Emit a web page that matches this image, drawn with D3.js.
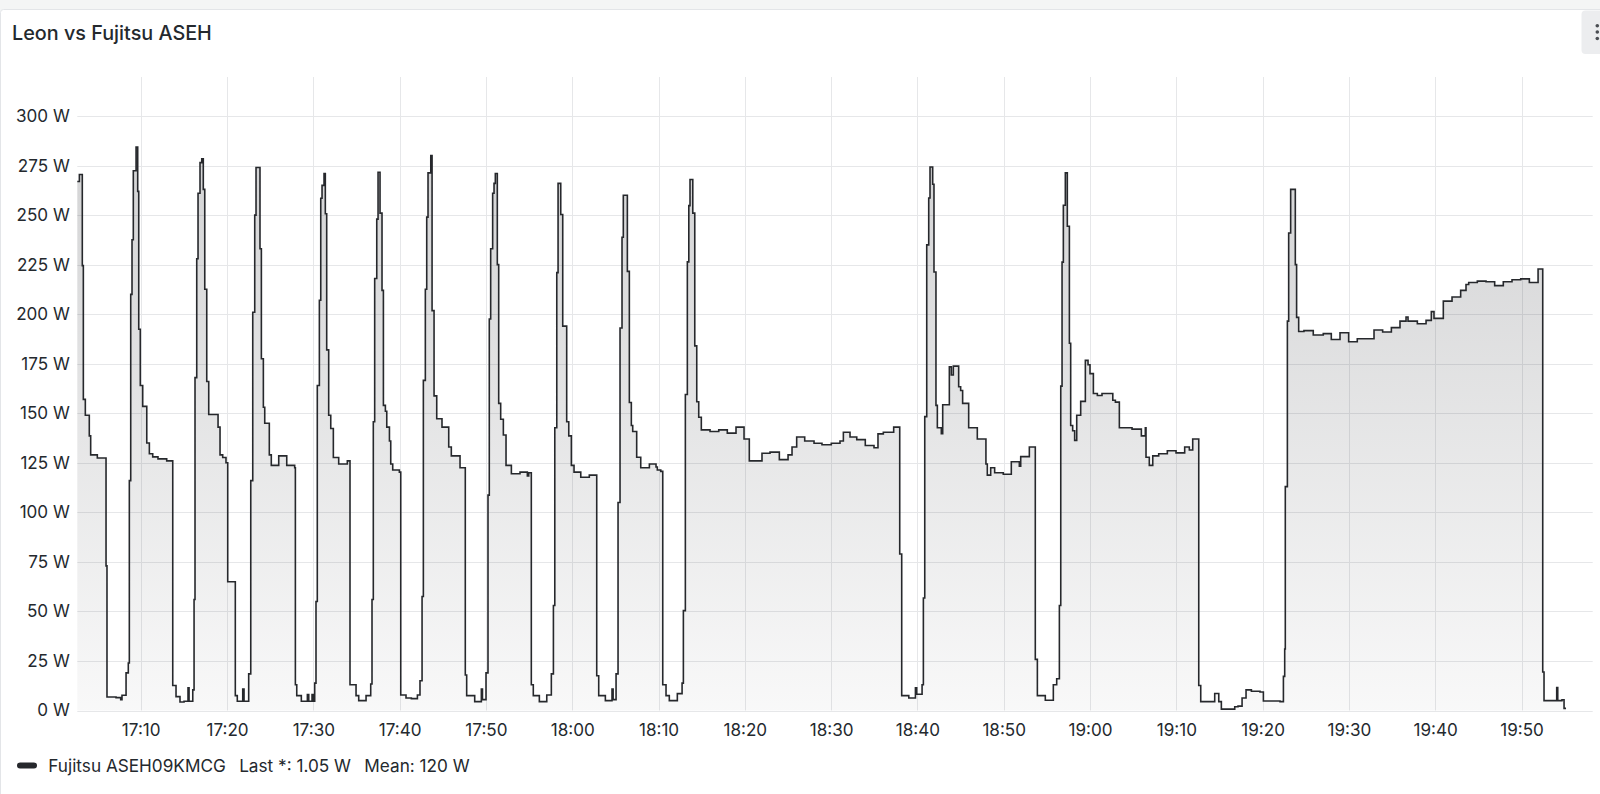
<!DOCTYPE html>
<html>
<head>
<meta charset="utf-8">
<script src="https://cdn.jsdelivr.net/npm/d3@7"></script>
<style>
  html, body { margin: 0; padding: 0; background: #f4f5f5; }
  svg { display: block; font-family: Inter, "Noto Sans", sans-serif; }
</style>
</head>
<body>
<svg id="chart" width="1600" height="794"></svg>
<script>
// ---- data (minutes after 17:00, watts) ----
const title = "Leon vs Fujitsu ASEH";
const seriesName = "Fujitsu ASEH09KMCG";
const legendStats = ["Last *: 1.05 W", "Mean: 120 W"];
const yTicks = [0, 25, 50, 75, 100, 125, 150, 175, 200, 225, 250, 275, 300];
const domainMinutes = [2.65, 178.25];
const minutes = [
  2.65, 2.89, 3.23, 3.35, 3.58, 4.04, 4.20, 4.97, 5.98, 6.09, 7.14, 7.68, 7.83, 8.30, 8.56, 8.68, 8.84, 8.99, 9.14, 9.46,
  9.65, 9.77, 9.95, 10.23, 10.70, 11.00, 11.39, 12.00, 13.01, 13.71, 14.09, 14.55, 15.02, 15.48, 15.60, 16.03, 16.18, 16.29, 16.49, 16.64,
  16.87, 17.07, 17.25, 17.42, 17.65, 17.88, 18.96, 19.19, 19.50, 19.88, 20.08, 20.96, 21.19, 21.82, 21.97, 22.51, 22.75, 22.98, 23.21, 23.36,
  23.82, 23.98, 24.21, 24.37, 24.90, 25.13, 25.99, 26.92, 27.84, 27.92, 28.08, 28.61, 29.31, 29.47, 29.85, 30.00, 30.16, 30.31, 30.46, 30.70,
  30.86, 31.01, 31.24, 31.39, 31.55, 31.78, 32.02, 32.32, 32.94, 33.94, 34.25, 34.95, 35.26, 36.11, 36.65, 36.80, 36.95, 37.11, 37.35, 37.50,
  37.73, 37.96, 38.12, 38.35, 38.51, 38.82, 38.97, 39.20, 39.97, 40.13, 40.74, 41.36, 42.06, 42.36, 42.60, 42.75, 42.98, 43.14, 43.29, 43.61,
  43.76, 43.99, 44.30, 44.91, 45.69, 45.99, 47.00, 47.61, 47.77, 48.70, 49.47, 49.60, 50.01, 50.24, 50.39, 50.55, 50.78, 50.94, 51.09, 51.32,
  51.48, 51.71, 52.02, 52.33, 52.95, 53.95, 54.80, 54.96, 55.26, 55.49, 56.19, 57.05, 57.58, 57.82, 57.98, 58.21, 58.36, 58.67, 58.90, 59.36,
  59.60, 59.90, 60.21, 60.99, 61.98, 62.84, 63.07, 63.84, 64.61, 64.74, 65.08, 65.31, 65.54, 65.77, 65.92, 66.39, 66.62, 66.85, 67.01, 67.47,
  67.94, 68.94, 69.71, 69.86, 70.26, 70.49, 70.87, 71.25, 72.18, 72.73, 72.88, 73.11, 73.34, 73.51, 73.65, 73.97, 74.20, 74.43, 74.66, 74.96,
  75.97, 76.98, 77.97, 78.98, 79.91, 80.52, 81.99, 82.92, 84.00, 85.01, 85.47, 86.01, 86.94, 88.02, 88.94, 90.02, 91.03, 91.42, 92.19, 92.97,
  93.96, 94.97, 95.43, 96.05, 97.25, 97.95, 98.18, 99.00, 99.77, 99.92, 100.54, 100.69, 100.85, 101.08, 101.31, 101.46, 101.77, 101.92, 102.15, 102.31,
  102.77, 102.93, 103.70, 103.93, 104.16, 104.78, 105.01, 105.24, 105.94, 106.94, 107.94, 108.10, 108.49, 108.95, 109.95, 110.88, 111.81, 111.97, 112.97, 113.66,
  113.90, 114.82, 115.75, 116.14, 116.45, 116.61, 116.76, 116.91, 117.14, 117.37, 117.61, 117.76, 117.99, 118.22, 118.46, 118.92, 119.46, 119.77, 120.00, 120.39,
  120.85, 121.39, 122.64, 122.94, 123.40, 124.87, 125.95, 126.41, 126.49, 126.87, 127.27, 127.96, 128.96, 129.97, 130.97, 131.51, 131.90, 132.60, 132.83, 134.45,
  134.92, 135.22, 136.77, 137.15, 137.62, 138.08, 138.70, 139.70, 140.09, 142.02, 142.41, 142.56, 142.63, 142.87, 143.02, 143.25, 143.79, 143.94, 144.18, 144.79,
  145.87, 147.03, 147.96, 148.97, 149.97, 150.97, 152.91, 153.91, 154.92, 155.92, 156.62, 156.85, 157.93, 158.94, 159.55, 159.86, 160.94, 161.95, 162.95, 163.57,
  163.88, 164.88, 165.89, 166.89, 167.89, 168.90, 169.91, 170.91, 171.92, 172.46, 172.61, 174.08, 174.20, 174.69, 174.93, 175.16
];
const watts = [
  267, 270.5, 224.5, 157, 149, 138.6, 129, 127.4, 73, 6.8, 6.5, 5.5, 7.7, 19, 24, 116, 210, 237.6, 272.4, 284.3,
  262, 192.4, 164, 153.5, 135, 129.6, 128, 127, 126, 12.6, 7, 4.3, 4.7, 11.5, 4.7, 10.4, 56, 168, 228, 261,
  276.5, 278.4, 263, 212.6, 166, 149.4, 143, 129, 127.7, 125, 65, 7.5, 4.7, 10.8, 4.7, 18.5, 116, 201, 250, 274,
  233, 177.5, 153, 145, 129, 123.7, 128.5, 123.7, 122.5, 13, 7.5, 4.7, 8, 4.7, 8, 4.7, 13.8, 55, 164, 207,
  258.5, 265, 271, 250.7, 182, 149, 142.3, 127.7, 124.4, 126, 13, 7.5, 5, 7.5, 13.4, 56, 145.7, 218, 248, 271.6,
  251, 212, 154, 151, 143, 136, 124.4, 121.4, 120.3, 7.8, 6.3, 6, 7.8, 15, 57.5, 166.6, 212.6, 249, 271.3, 280,
  201.8, 158.8, 147.2, 143, 133, 128.5, 122.5, 17.9, 7.5, 4.5, 10.8, 5.5, 19, 108.7, 197.6, 233, 261, 266, 271, 225,
  155, 147, 139, 123.7, 119.5, 120.3, 118.4, 120, 13, 7.5, 4.5, 7.8, 18.5, 53, 142.7, 221, 266, 250.3, 194, 145.7,
  138.6, 123.7, 120.3, 117.7, 118.8, 17.5, 7.5, 5, 10.8, 5.5, 18.5, 105, 193, 238.8, 260, 221.6, 155.4, 143.8, 140.8, 127.8,
  122.5, 124.4, 122.9, 121.4, 120.7, 13, 7.5, 5, 8.5, 13.8, 50.4, 159.5, 226.4, 254.8, 268, 251, 184, 155.8, 148, 141.6,
  140.8, 141.6, 140, 143, 137, 126, 129.8, 130.4, 126.6, 129, 133, 138, 136, 134.9, 134.1, 134.9, 136, 140.4, 138, 136.7,
  133.7, 132.6, 139.6, 140.4, 143, 79, 7.5, 6.3, 11.5, 8.2, 13, 56.8, 148.3, 235, 258.6, 274.3, 265.6, 221.3, 154, 142.7,
  139.7, 154.3, 173.4, 169.3, 173.8, 163.4, 161.5, 155, 142.7, 137, 124.4, 118.8, 122.5, 120, 119.2, 125.5, 123.3, 128.1, 133, 25.8,
  7.5, 5.2, 13, 16, 53, 163.7, 226.3, 255, 271.3, 244.4, 185.3, 143.8, 141.2, 136.3, 149, 156, 176.7, 174.5, 170, 160,
  159, 160, 156.6, 155.6, 142.7, 142, 138.6, 142.7, 127.8, 123.7, 128.5, 129.6, 131.1, 130, 133, 131.5, 137, 12.6, 4.5, 8.6,
  4.5, 0.7, 1.9, 2.2, 6.3, 10.4, 9.7, 9.3, 4.8, 4.5, 17.2, 31, 113, 196.5, 241, 263, 225, 198.4, 191.3, 191.7,
  189.5, 190.2, 187.2, 190.6, 186.1, 187.6, 192, 191, 193.2, 196.5, 198.6, 196.5, 195.2, 196.9, 201.3, 197.9, 206.6, 208.7, 212, 215,
  216, 216.7, 216.4, 214.4, 216.4, 217.4, 217.8, 216, 222.8, 19.4, 5, 11.6, 5, 5.4, 1.05, 1.05
];

// ---- build ----
const base = new Date(2024, 0, 1, 17, 0, 0).getTime();
const toDate = m => new Date(base + m * 60000);
const data = minutes.map((m, i) => ({ t: toDate(m), v: watts[i] }));

const svg = d3.select("#chart");
const W = 1600, H = 794;
const plot = { left: 77.3, right: 1592.7, top: 77, bottom: 710.5 };

// page & panel
svg.append("rect").attr("x", 0).attr("y", 0).attr("width", W).attr("height", H).attr("fill", "#f4f5f5");
svg.append("rect").attr("x", 0.5).attr("y", 9.5).attr("width", W + 10).attr("height", H + 10)
  .attr("rx", 3).attr("fill", "#ffffff").attr("stroke", "#e3e5e8");

// menu button
svg.append("rect").attr("x", 1581.5).attr("y", 10.5).attr("width", 30).attr("height", 43.5)
  .attr("rx", 4).attr("fill", "#ecedef");
[25.7, 32, 38.5].forEach(cy => svg.append("circle").attr("cx", 1597.3).attr("cy", cy).attr("r", 1.8).attr("fill", "#4a4d52"));

// title
svg.append("text").attr("x", 12).attr("y", 39.5).attr("font-size", 19.8).attr("font-weight", 500)
  .attr("fill", "#24292e").text(title);

const x = d3.scaleTime().domain(domainMinutes.map(toDate)).range([plot.left, plot.right]);
const y = d3.scaleLinear().domain([0, 319.7]).range([plot.bottom, plot.top]);

const gridColor = "#e6e7e9";
const xTicks = x.ticks(d3.timeMinute.every(10));

// gridlines
svg.append("g").selectAll("line").data(yTicks).join("line")
  .attr("x1", plot.left).attr("x2", plot.right)
  .attr("y1", d => Math.round(y(d)) + 0.5).attr("y2", d => Math.round(y(d)) + 0.5)
  .attr("stroke", gridColor).attr("stroke-width", 1);
svg.append("g").selectAll("line").data(xTicks).join("line")
  .attr("y1", plot.top).attr("y2", plot.bottom)
  .attr("x1", d => Math.round(x(d)) + 0.5).attr("x2", d => Math.round(x(d)) + 0.5)
  .attr("stroke", gridColor).attr("stroke-width", 1);

// axes labels via d3 axes (no domain/tick lines)
const yAxis = svg.append("g").attr("transform", `translate(${plot.left},0)`)
  .call(d3.axisLeft(y).tickValues(yTicks).tickFormat(d => d + " W").tickSize(0).tickPadding(7.5));
const xAxis = svg.append("g").attr("transform", `translate(0,${plot.bottom})`)
  .call(d3.axisBottom(x).tickValues(xTicks).tickFormat(d3.timeFormat("%H:%M")).tickSize(0).tickPadding(13));
[yAxis, xAxis].forEach(g => {
  g.select(".domain").remove();
  g.selectAll("text").attr("font-size", 17.1).attr("fill", "#24292e").attr("font-family", "Inter, sans-serif");
});

// gradient fill
const defs = svg.append("defs");
const grad = defs.append("linearGradient").attr("id", "fillGrad")
  .attr("gradientUnits", "userSpaceOnUse").attr("x1", 0).attr("x2", 0)
  .attr("y1", plot.top).attr("y2", plot.bottom);
grad.append("stop").attr("offset", 0).attr("stop-color", "#202228").attr("stop-opacity", 0.22);
grad.append("stop").attr("offset", 1).attr("stop-color", "#202228").attr("stop-opacity", 0.03);

const area = d3.area().x(d => x(d.t)).y0(y(0)).y1(d => y(d.v)).curve(d3.curveStepAfter);
const line = d3.line().x(d => x(d.t)).y(d => y(d.v)).curve(d3.curveStepAfter);

svg.append("path").datum(data).attr("d", area).attr("fill", "url(#fillGrad)");
svg.append("path").datum(data).attr("d", line).attr("fill", "none")
  .attr("stroke", "#26282c").attr("stroke-width", 1.6).attr("stroke-linejoin", "miter");

// legend
const lg = svg.append("g");
lg.append("rect").attr("x", 17).attr("y", 762.5).attr("width", 20).attr("height", 6).attr("rx", 3).attr("fill", "#26282c");
const items = [seriesName].concat(legendStats);
let lx = 48.3;
items.forEach(s => {
  const t = lg.append("text").attr("x", lx).attr("y", 772).attr("font-size", 17.2)
    .attr("fill", "#24292e").text(s);
  lx += t.node().getComputedTextLength() + 13.3;
});
</script>
</body>
</html>
